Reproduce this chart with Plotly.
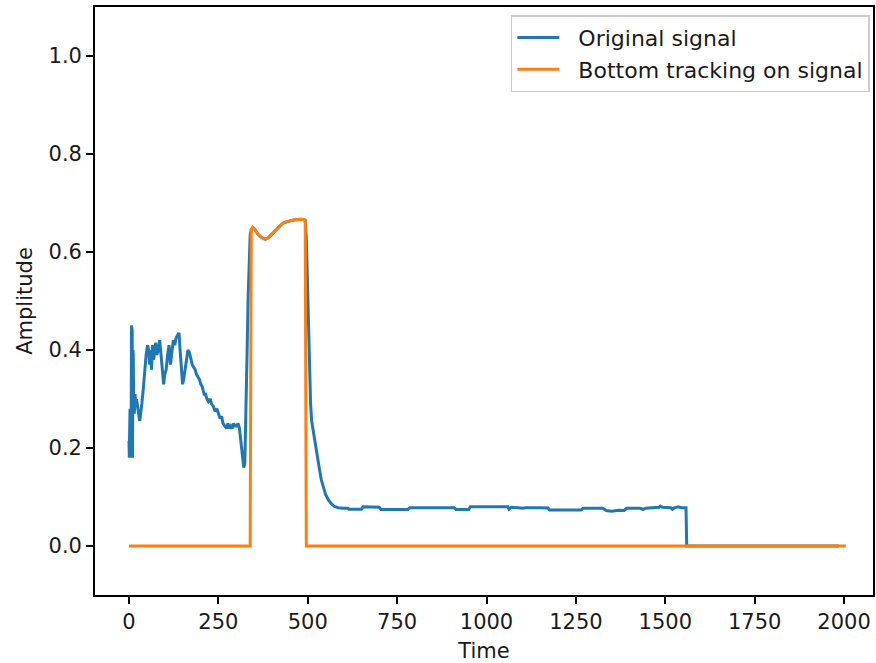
import plotly.graph_objects as go

# Sample times and amplitude of the recorded signal
time = [
    0, 1, 2, 3, 4, 5, 6, 7, 8, 9, 10, 11, 12, 13, 15, 17, 19, 21, 24, 27, 30, 33, 36,
    40, 44, 48, 52, 55, 58, 60, 63, 66, 69, 72, 75, 78, 82, 86, 90, 94, 97, 100, 104,
    108, 112, 116, 120, 124, 128, 132, 136, 140, 143, 146, 150, 153, 157, 161, 165,
    169, 173, 177, 181, 185, 189, 193, 197, 201, 205, 210, 214, 218, 222, 227, 231,
    236, 241, 246, 250, 255, 259, 263, 268, 273, 277, 281, 285, 289, 293, 297, 301,
    305, 309, 313, 317, 321, 324, 327, 330, 333, 336, 339,
    342, 346, 350, 355, 360, 367, 374, 381, 388, 395, 402, 410, 418, 426, 434, 442,
    450, 458, 466, 474, 482, 488, 493,
    496, 499, 502, 505, 508, 511, 515, 520, 526, 532, 538, 544, 550, 557, 565, 574,
    585, 600, 612, 615, 650, 655, 700, 705, 780, 785, 840, 845, 910, 915, 950, 955,
    1060, 1063, 1070, 1090, 1100, 1110, 1140, 1150, 1172, 1176, 1265, 1270, 1325,
    1335, 1350, 1370, 1385, 1392, 1430, 1438, 1445, 1470, 1482, 1486, 1492, 1515,
    1520, 1525, 1537, 1545, 1558, 1560, 1985,
]
signal = [
    0.215, 0.18, 0.24, 0.28, 0.19, 0.26, 0.18, 0.45, 0.19, 0.44, 0.18, 0.40, 0.39,
    0.30, 0.27, 0.31, 0.29, 0.30, 0.28, 0.27, 0.255, 0.27, 0.29, 0.32, 0.36, 0.39,
    0.41, 0.40, 0.37, 0.40, 0.36, 0.41, 0.38, 0.40, 0.415, 0.39, 0.40, 0.42, 0.38,
    0.35, 0.33, 0.35, 0.36, 0.39, 0.41, 0.37, 0.40, 0.42, 0.41, 0.425, 0.43, 0.435,
    0.40, 0.36, 0.33, 0.34, 0.36, 0.38, 0.40, 0.395, 0.38, 0.37, 0.365, 0.36, 0.35,
    0.345, 0.34, 0.33, 0.325, 0.31, 0.31, 0.30, 0.295, 0.30, 0.29, 0.285, 0.275,
    0.28, 0.27, 0.26, 0.265, 0.25, 0.245, 0.24, 0.25, 0.24, 0.245, 0.24, 0.25,
    0.245, 0.245, 0.25, 0.24, 0.21, 0.18, 0.16, 0.17, 0.25, 0.38, 0.50, 0.60, 0.635,
    0.645, 0.65, 0.648, 0.642, 0.637, 0.632, 0.628, 0.626, 0.628, 0.633, 0.638,
    0.645, 0.651, 0.656, 0.66, 0.662, 0.664, 0.665, 0.666, 0.667, 0.667, 0.666, 0.665,
    0.63, 0.54, 0.44, 0.36, 0.29, 0.255, 0.235, 0.21, 0.185, 0.16, 0.135, 0.118,
    0.105, 0.095, 0.087, 0.081, 0.078, 0.077, 0.077, 0.075, 0.075, 0.08, 0.079,
    0.0745, 0.0745, 0.078, 0.078, 0.079, 0.078, 0.0745, 0.0745, 0.08, 0.08, 0.075,
    0.079, 0.078, 0.077, 0.078, 0.077, 0.078, 0.0775, 0.0735, 0.0735, 0.077, 0.077,
    0.0725, 0.071, 0.073, 0.0725, 0.077, 0.077, 0.0745, 0.077, 0.078, 0.079, 0.0815,
    0.079, 0.078, 0.075, 0.078, 0.08, 0.078, 0.078, 0.0, 0.0,
]

# Interval where the bottom is detected, and the end of the tracking output
bottom_start = 342
bottom_end = 493
tracking_end = 2005

track_time = time + [tracking_end]
track = [v if bottom_start <= t <= bottom_end else 0.0 for t, v in zip(time, signal)] + [0.0]

x_ticks = [0, 250, 500, 750, 1000, 1250, 1500, 1750, 2000]
y_ticks = [0.0, 0.2, 0.4, 0.6, 0.8, 1.0]

series_names = ["Original signal", "Bottom tracking on signal"]

FONT = "DejaVu Sans"
FS = 21
TXT = "#1a1a1a"
GAP = "\u00a0\u00a0"  # spacing between legend handle and label

fig = go.Figure()
fig.add_trace(go.Scatter(
    x=time, y=signal, mode="lines", name=GAP + series_names[0],
    line=dict(color="#1f77b4", width=3),
))
fig.add_trace(go.Scatter(
    x=track_time, y=track, mode="lines", name=GAP + series_names[1],
    line=dict(color="#ff7f0e", width=3),
))

axis_common = dict(
    showline=True, linecolor="black", linewidth=1.7, mirror=True,
    ticks="outside", ticklen=7, tickwidth=1.7, tickcolor="black",
    showgrid=False, zeroline=False,
    tickfont=dict(family=FONT, size=FS, color=TXT),
)

fig.update_layout(
    width=876, height=663,
    margin=dict(l=95, r=1, t=7, b=68),
    paper_bgcolor="white", plot_bgcolor="white",
    font=dict(family=FONT, size=FS, color=TXT),
    xaxis=dict(
        range=[-95, 2081], tickvals=x_ticks,
        title=dict(text="Time", font=dict(family=FONT, size=FS, color=TXT), standoff=10),
        **axis_common,
    ),
    yaxis=dict(
        range=[-0.1, 1.1], tickvals=y_ticks, tickformat=".1f",
        title=dict(text="Amplitude", font=dict(family=FONT, size=FS, color=TXT), standoff=10),
        **axis_common,
    ),
    legend=dict(
        x=0.996, y=0.986, xanchor="right", yanchor="top",
        bgcolor="rgba(255,255,255,0.8)", bordercolor="#cccccc", borderwidth=1.5,
        font=dict(family=FONT, size=22, color=TXT),
        itemwidth=42, tracegroupgap=4,
    ),
    showlegend=True,
)

fig.write_html("out.html")
